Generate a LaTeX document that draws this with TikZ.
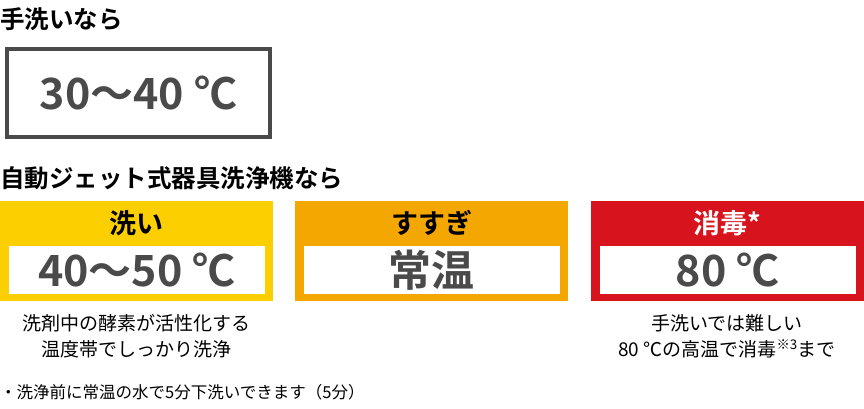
\documentclass[tikz,border=0pt]{standalone}
\usepackage{fontspec}
\setmainfont{Noto Sans CJK JP}
\newfontfamily\jpbold{Noto Sans CJK JP Bold}
\definecolor{wyellow}{HTML}{FCD000}
\definecolor{worange}{HTML}{F4A700}
\definecolor{wred}{HTML}{D7141E}
\definecolor{wgray}{HTML}{4A4A4A}
\tikzset{
  title/.style={anchor=west,inner sep=0pt,font=\jpbold\fontsize{24.5}{26}\selectfont},
  band/.style={draw=none,minimum width=273pt,minimum height=100pt,anchor=north west,inner sep=0pt},
  panel/.style={fill=white,minimum width=256pt,minimum height=48pt,anchor=north,inner sep=0pt},
  head/.style={inner sep=0pt,font=\jpbold\fontsize{27}{28}\selectfont},
  temp/.style={inner sep=0pt,text=wgray,font=\jpbold\fontsize{43}{45}\selectfont},
  note/.style={inner sep=0pt,align=center,font=\fontsize{19}{26}\selectfont}
}
\begin{document}
\begin{tikzpicture}[x=1pt,y=1pt]
\useasboundingbox (0,0) rectangle (864,-409);
% hand wash
\node[title] (hand) at (0,-19) {手洗いなら};
\node[draw=wgray,line width=4pt,minimum width=263pt,minimum height=88pt,anchor=north west] (handbox) at (5,-47) {};
\node[temp] at (handbox.center) {30〜40 ℃};
% machine
\node[title] (machine) at (0,-178) {自動ジェット式器具洗浄機なら};
\node[band,fill=wyellow] (wash) at (0,-201) {};
\node[band,fill=worange] (rinse) at (295,-201) {};
\node[band,fill=wred] (disinf) at (591,-201) {};
\foreach \b/\h/\t/\c in {wash/洗い/40〜50 ℃/black, rinse/すすぎ/常温/black, disinf/消毒*/80 ℃/white}{
  \node[panel] (\b-p) at ([yshift=-45pt]\b.north) {};
  \node[head,text=\c] at ([yshift=-22pt]\b.north) {\h};
  \node[temp] at (\b-p.center) {\t};
}
% notes
\node[note] (washnote) at (136,-336) {洗剤中の酵素が活性化する\\温度帯でしっかり洗浄};
\node[note] (disnote) at (727,-336) {手洗いでは難しい\\80 ℃の高温で消毒\textsuperscript{※3}まで};
\node[note,anchor=west,font=\fontsize{16.5}{18}\selectfont] (foot) at (0,-392) {・洗浄前に常温の水で5分下洗いできます（5分）};
\end{tikzpicture}
\end{document}
